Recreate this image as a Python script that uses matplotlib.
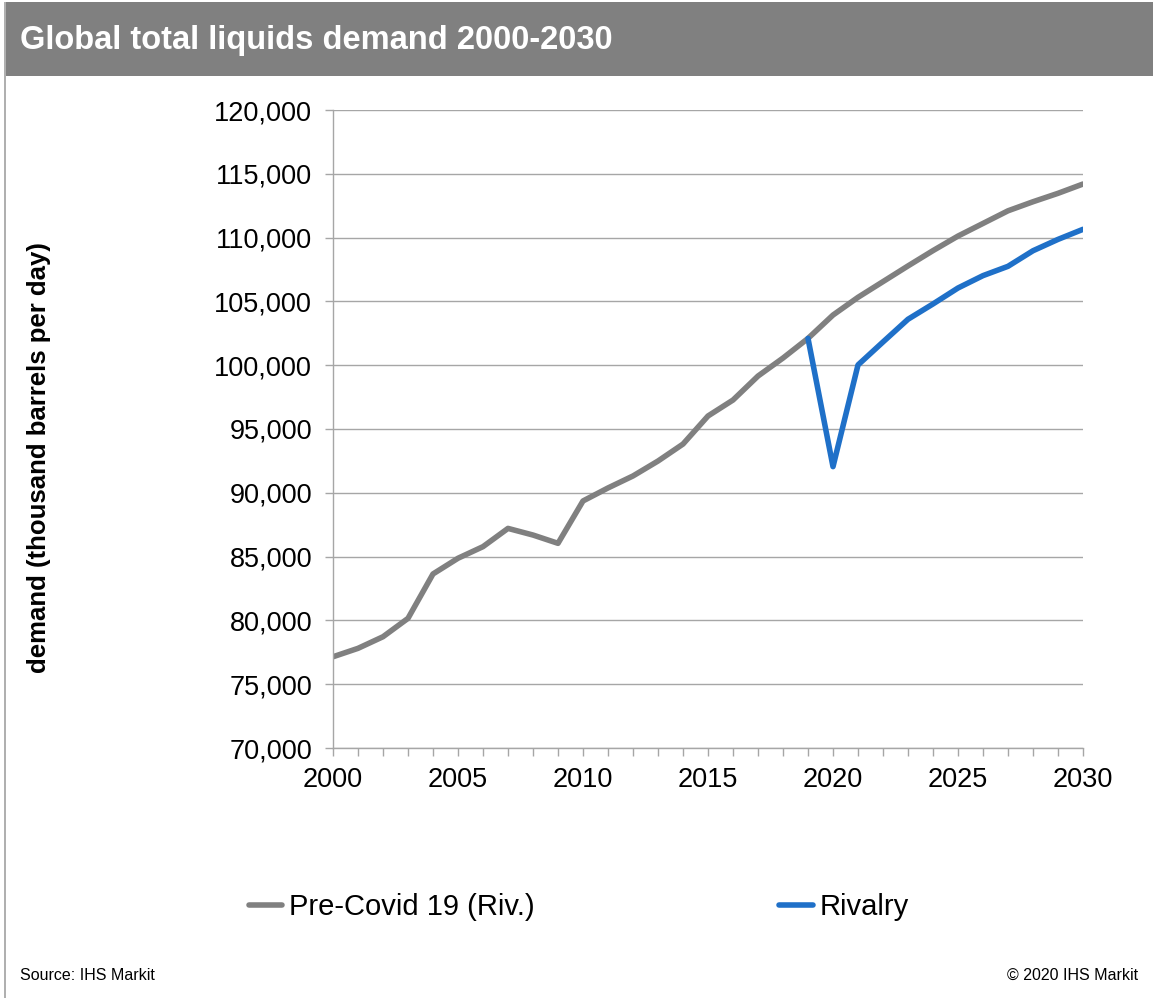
import matplotlib
matplotlib.use('Agg')
import matplotlib.pyplot as plt
from matplotlib.patches import Rectangle
from matplotlib.ticker import MultipleLocator, FuncFormatter
import numpy as np

plt.rcParams['font.family'] = ['Liberation Sans', 'DejaVu Sans']

# data (thousand barrels per day)
years = list(range(2000, 2031))
pre_covid = [77150, 77810, 78720, 80160, 83640, 84870, 85780, 87210, 86690, 86040,
             89360, 90380, 91320, 92490, 93820, 96020, 97270, 99150, 100560, 102100,
             103930, 105320, 106550, 107780, 108980, 110120, 111110, 112100, 112810,
             113470, 114200]
rivalry_years = list(range(2019, 2031))
rivalry = [102100, 92050, 100020, 101820, 103600, 104800, 106050, 107020, 107750,
           108970, 109860, 110650]

title = 'Global total liquids demand 2000-2030'
y_label = 'demand (thousand barrels per day)'
series_names = ['Pre-Covid 19 (Riv.)', 'Rivalry']
grey = '#808080'
blue = '#1F70C8'

W, H = 1153, 998
fig = plt.figure(figsize=(W / 100, H / 100), dpi=100)

# header bar and outer frame
fig.patches.append(Rectangle((5 / W, 1 - 76 / H), 1 - 5 / W, 74 / H,
                             transform=fig.transFigure, facecolor=grey,
                             edgecolor='none', zorder=0))
fig.patches.append(Rectangle((4 / W, 0), 1.5 / W, 1 - 2 / H,
                             transform=fig.transFigure, facecolor='#b0b0b0',
                             edgecolor='none', zorder=0))
fig.text(20 / W, 1 - 41 / H, title, color='white', fontsize=23.5,
         fontweight='bold', va='center', ha='left')

ax = fig.add_axes([333 / W, 1 - 748 / H, 750 / W, 638 / H])
ax.plot(years, pre_covid, color=grey, lw=4, solid_capstyle='round',
        solid_joinstyle='round', label=series_names[0])
ax.plot(rivalry_years, rivalry, color=blue, lw=4, solid_capstyle='round',
        solid_joinstyle='round', label=series_names[1])

ax.set_xlim(2000, 2030)
ax.set_ylim(70000, 120000)
ax.xaxis.set_major_locator(MultipleLocator(5))
ax.xaxis.set_minor_locator(MultipleLocator(1))
ax.yaxis.set_major_locator(MultipleLocator(5000))
ax.yaxis.set_major_formatter(FuncFormatter(lambda v, p: '{:,.0f}'.format(v)))
ax.grid(axis='y', color='#a6a6a6', lw=1.0)
ax.set_axisbelow(True)
for side in ('top', 'right'):
    ax.spines[side].set_visible(False)
for side in ('left', 'bottom'):
    ax.spines[side].set_color('#a6a6a6')
    ax.spines[side].set_linewidth(1.0)
ax.tick_params(axis='both', which='both', direction='out', color='#a6a6a6',
               length=6, width=1.0, labelsize=19.5, pad=9)
ax.tick_params(axis='x', which='major', pad=8)
ax.set_ylabel(y_label, fontsize=18.5, fontweight='bold', labelpad=0)
ax.yaxis.set_label_coords(-0.376, 0.4545)

leg = fig.legend(loc='center left', bbox_to_anchor=(234 / W, 1 - 907 / H),
                 ncol=2, frameon=False, fontsize=21, handlelength=1.15,
                 handletextpad=0.22, columnspacing=8.4, borderpad=0)

fig.text(20 / W, 1 - 975 / H, 'Source: IHS Markit', fontsize=11.5, va='center')
fig.text(1138 / W, 1 - 975 / H, '\u00a9 2020 IHS Markit', fontsize=11.5,
         va='center', ha='right')

fig.savefig('out.png', dpi=100, facecolor='white')
